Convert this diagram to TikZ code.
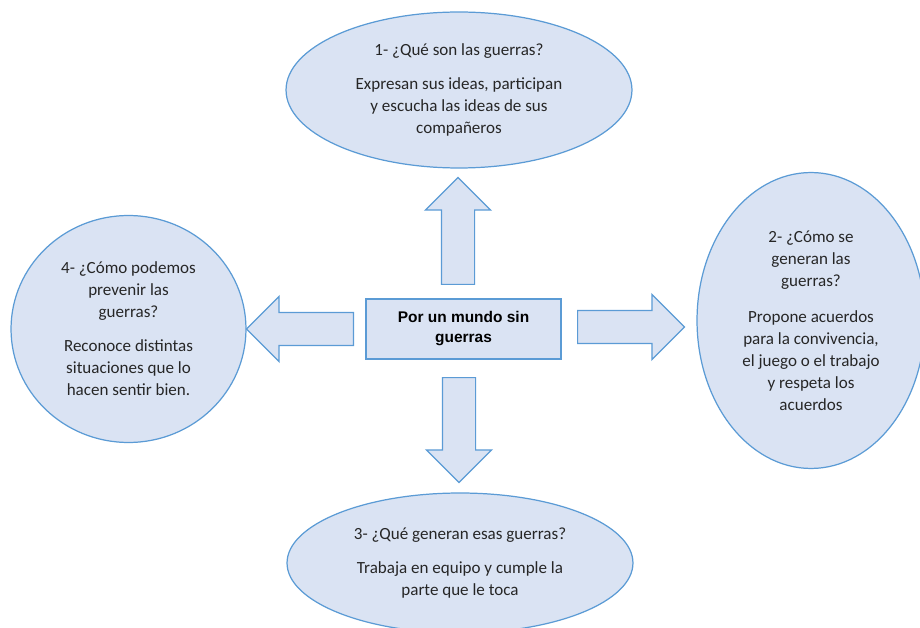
\documentclass[tikz,border=0pt]{standalone}
\usepackage{fontspec}
\setmainfont{Carlito}
\newfontfamily\boxfont{Liberation Sans}
\usetikzlibrary{shapes.geometric,shapes.arrows}
\definecolor{fillblue}{HTML}{DAE3F3}
\definecolor{lineblue}{HTML}{5B9BD5}
\definecolor{txtgray}{HTML}{262626}
\tikzset{
  bubble/.style={ellipse, draw=lineblue, fill=fillblue, line width=0.7pt, align=center,
    text=txtgray, font=\fontsize{9.7}{12.5}\selectfont, inner sep=0pt},
  bigarrow/.style={single arrow, draw=lineblue, fill=fillblue, line width=0.7pt,
    minimum height=2.14cm, single arrow head extend=0.32cm,
    single arrow tip angle=90, inner sep=0.32cm},
}
\begin{document}
\begin{tikzpicture}[x=0.02cm,y=-0.02cm]
    \useasboundingbox (0,0) rectangle (920,628);
    % centre box
    \node[draw=lineblue, fill=fillblue, line width=0.7pt, minimum width=3.9cm, minimum height=1.2cm,
      align=center, font={\boxfont\bfseries\fontsize{8.8}{11.4}\selectfont}] (mundo) at (463.5,329) {Por un mundo sin\\guerras};
    % questions
    \node[bubble, minimum width=6.92cm, minimum height=3.12cm] (q1) at (459,90)
      {1- ¿Qué son las guerras?\\[7pt]Expresan sus ideas, participan\\y escucha las ideas de sus\\compañeros};
    \node[bubble, minimum width=4.56cm, minimum height=5.92cm] (q2) at (811,320.5)
      {2- ¿Cómo se\\generan las\\guerras?\\[8pt]Propone acuerdos\\para la convivencia,\\el juego o el trabajo\\y respeta los\\acuerdos};
    \node[bubble, minimum width=6.92cm, minimum height=2.8cm] (q3) at (460,563)
      {3- ¿Qué generan esas guerras?\\[7pt]Trabaja en equipo y cumple la\\parte que le toca};
    \node[bubble, minimum width=4.7cm, minimum height=4.54cm] (q4) at (128.5,329)
      {4- ¿Cómo podemos\\prevenir las\\guerras?\\[7pt]Reconoce distintas\\situaciones que lo\\hacen sentir bien.};
    % arrows
    \node[bigarrow, rotate=90, anchor=tail] (up) at (458,285) {};
    \node[bigarrow, anchor=tail] (right) at (577,327) {};
    \node[bigarrow, rotate=270, anchor=tail, minimum height=2.1cm] (down) at (459,377) {};
    \node[bigarrow, rotate=180, anchor=tail] (left) at (354,329) {};
\end{tikzpicture}
\end{document}
